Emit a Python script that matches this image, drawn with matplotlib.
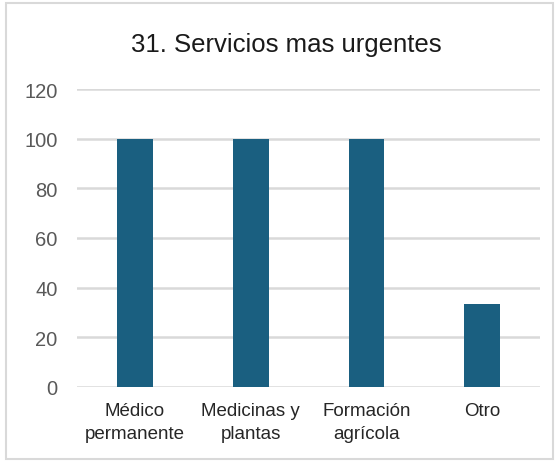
import matplotlib
matplotlib.use('Agg')
from matplotlib import pyplot as plt
from matplotlib.patches import Rectangle

plt.rcParams['font.family'] = ['Liberation Sans', 'DejaVu Sans']

categories = ['Médico\npermanente', 'Medicinas y\nplantas', 'Formación\nagrícola', 'Otro']
values = [100, 100, 100, 33.3]
yticks = [0, 20, 40, 60, 80, 100, 120]

fig = plt.figure(figsize=(5.58, 4.64), dpi=100)
ax = fig.add_axes([0.138, 0.164, 0.830, 0.642])

x = range(len(categories))
ax.bar(x, values, width=0.31, color='#1a5f80', zorder=3)

ax.set_xlim(-0.5, len(categories) - 0.5)
ax.set_ylim(0, 120)
ax.set_yticks(yticks)
ax.set_xticks(list(x))
ax.set_xticklabels(categories, fontsize=13.5, color='#262626', linespacing=1.45)
ax.tick_params(axis='y', labelsize=14.5, labelcolor='#595959', length=0, pad=14)
ax.tick_params(axis='x', length=0, pad=11)
ax.grid(axis='y', color='#d9d9d9', linewidth=1.8, zorder=0)
for s in ax.spines.values():
    s.set_visible(False)

fig.text(0.513, 0.903, '31. Servicios mas urgentes', ha='center', va='center',
         fontsize=18.5, color='#1a1a1a')

# light frame around the whole chart
fig.patches.append(Rectangle((6 / 558, 4 / 464), 547 / 558, 456 / 464,
                             transform=fig.transFigure, fill=False,
                             edgecolor='#d9d9d9', linewidth=1.5))

fig.savefig('out.png', dpi=100)
